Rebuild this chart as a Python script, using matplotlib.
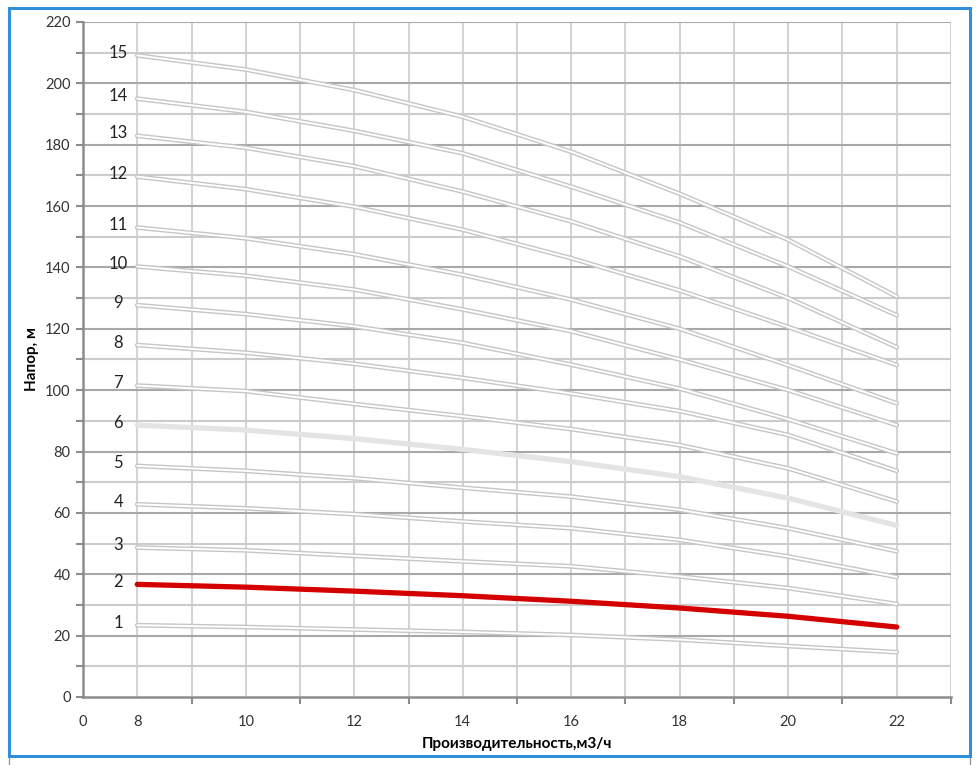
import numpy as np
import matplotlib
matplotlib.use("Agg")
import matplotlib.pyplot as plt
from matplotlib.patches import Rectangle
from matplotlib.lines import Line2D

plt.rcParams["font.family"] = ["Lato", "DejaVu Sans"]

flow = [8, 10, 12, 14, 16, 18, 20, 22]

h1 = [23.4, 22.8, 22.0, 21.2, 20.2, 18.7, 16.6, 14.6]
h2 = [36.7, 35.8, 34.5, 33.0, 31.2, 29.0, 26.3, 22.8]
h3 = [48.7, 47.8, 46.0, 44.2, 42.6, 39.3, 35.5, 30.3]
h4 = [62.8, 61.5, 59.6, 57.2, 55.0, 51.2, 45.8, 39.1]
h5 = [75.3, 73.7, 71.3, 68.2, 65.3, 61.0, 55.0, 47.5]
h6 = [88.6, 87.0, 84.2, 80.7, 76.7, 71.8, 64.8, 55.9]
h7 = [101.5, 99.7, 95.5, 91.5, 87.3, 82.1, 74.5, 63.7]
h8 = [114.7, 112.2, 108.6, 104.0, 98.9, 93.2, 85.4, 73.7]
h9 = [127.7, 124.8, 120.8, 115.4, 108.3, 100.5, 90.5, 79.4]
h10 = [140.3, 137.3, 132.8, 126.3, 119.2, 110.0, 100.0, 88.6]
h11 = [153.0, 149.5, 144.3, 137.6, 129.5, 120.0, 108.1, 95.7]
h12 = [169.6, 165.5, 159.8, 152.3, 143.0, 132.5, 120.6, 108.2]
h13 = [182.9, 179.0, 173.0, 164.7, 155.0, 143.6, 130.0, 114.0]
h14 = [195.0, 190.7, 184.5, 177.2, 166.3, 154.6, 140.3, 124.4]
h15 = [209.1, 204.5, 197.8, 189.1, 177.7, 164.0, 149.0, 130.5]

curves = [h1, h2, h3, h4, h5, h6, h7, h8, h9, h10, h11, h12, h13, h14, h15]
curve_names = [str(i) for i in range(1, 16)]

# x axis labels as in the original (first label sits at the axis start)
xtick_pos = [7, 8, 10, 12, 14, 16, 18, 20, 22]
xtick_labels = ["0", "8", "10", "12", "14", "16", "18", "20", "22"]

fig = plt.figure(figsize=(9.8, 7.65), dpi=100)
ax = fig.add_axes([0.0847, 0.0889, 0.8857, 0.8824])

ax.set_xlim(7, 23)
ax.set_ylim(0, 220)

# grid
for xv in range(7, 24):
    ax.axvline(xv, color="#d4d4d4", lw=1.5, zorder=0)
for yv in range(10, 221, 10):
    c = "#a8a8a8" if yv % 20 == 0 else "#cccccc"
    ax.axhline(yv, color=c, lw=1.5, zorder=0)

for i, h in enumerate(curves):
    name = curve_names[i]
    if name == "2":
        ax.plot(flow, h, color="#d40000", lw=3.8, solid_capstyle="round", zorder=5)
    elif name == "6":
        ax.plot(flow, h, color="#e4e4e4", lw=3.8, solid_capstyle="round", zorder=3)
    else:
        ax.plot(flow, h, color="#c6c6c6", lw=3.4, solid_capstyle="round",
                solid_joinstyle="round", zorder=3)
        ax.plot(flow, h, color="white", lw=1.4, solid_capstyle="round",
                solid_joinstyle="round", zorder=4)
    ax.text(7.65, h[0] + 0.8, name, ha="center", va="center", fontsize=12, color="#222222")

ax.set_xticks(xtick_pos)
ax.set_xticklabels(xtick_labels)
ax.set_xticks(np.arange(7, 24, 2), minor=True)
ax.tick_params(axis="x", which="major", length=0, pad=13, labelsize=10.5, colors="#333333")
ax.tick_params(axis="x", which="minor", length=5, width=1.5, color="#8c8c8c", direction="out")

ax.set_yticks(np.arange(0, 221, 20))
ax.set_yticks(np.arange(10, 221, 20), minor=True)
ax.tick_params(axis="y", which="both", length=5, width=1.5, color="#8c8c8c", labelsize=10.5,
               labelcolor="#333333", pad=4)

for side in ["top", "right"]:
    ax.spines[side].set_visible(False)
ax.spines["left"].set_color("#8c8c8c")
ax.spines["left"].set_linewidth(1.8)
ax.spines["bottom"].set_color("#8c8c8c")
ax.spines["bottom"].set_linewidth(1.8)

ax.set_xlabel("Производительность,м3/ч", fontsize=11, fontweight="bold", labelpad=6)
ax.set_ylabel("Напор, м", fontsize=11, fontweight="bold", labelpad=4)

# blue frame around the chart, gray edge of the page below it
frame = Rectangle((9 / 980, 1 - 756 / 765), (970 - 9) / 980, (756 - 8) / 765,
                  transform=fig.transFigure, fill=False, edgecolor="#2f8fdc", lw=2.2)
fig.patches.append(frame)
for xp in [9, 970]:
    fig.lines.append(Line2D([xp / 980, xp / 980], [0, 1 - 758 / 765],
                            transform=fig.transFigure, color="#9a9a9a", lw=1))

fig.savefig("out.png", dpi=100, facecolor="white")
